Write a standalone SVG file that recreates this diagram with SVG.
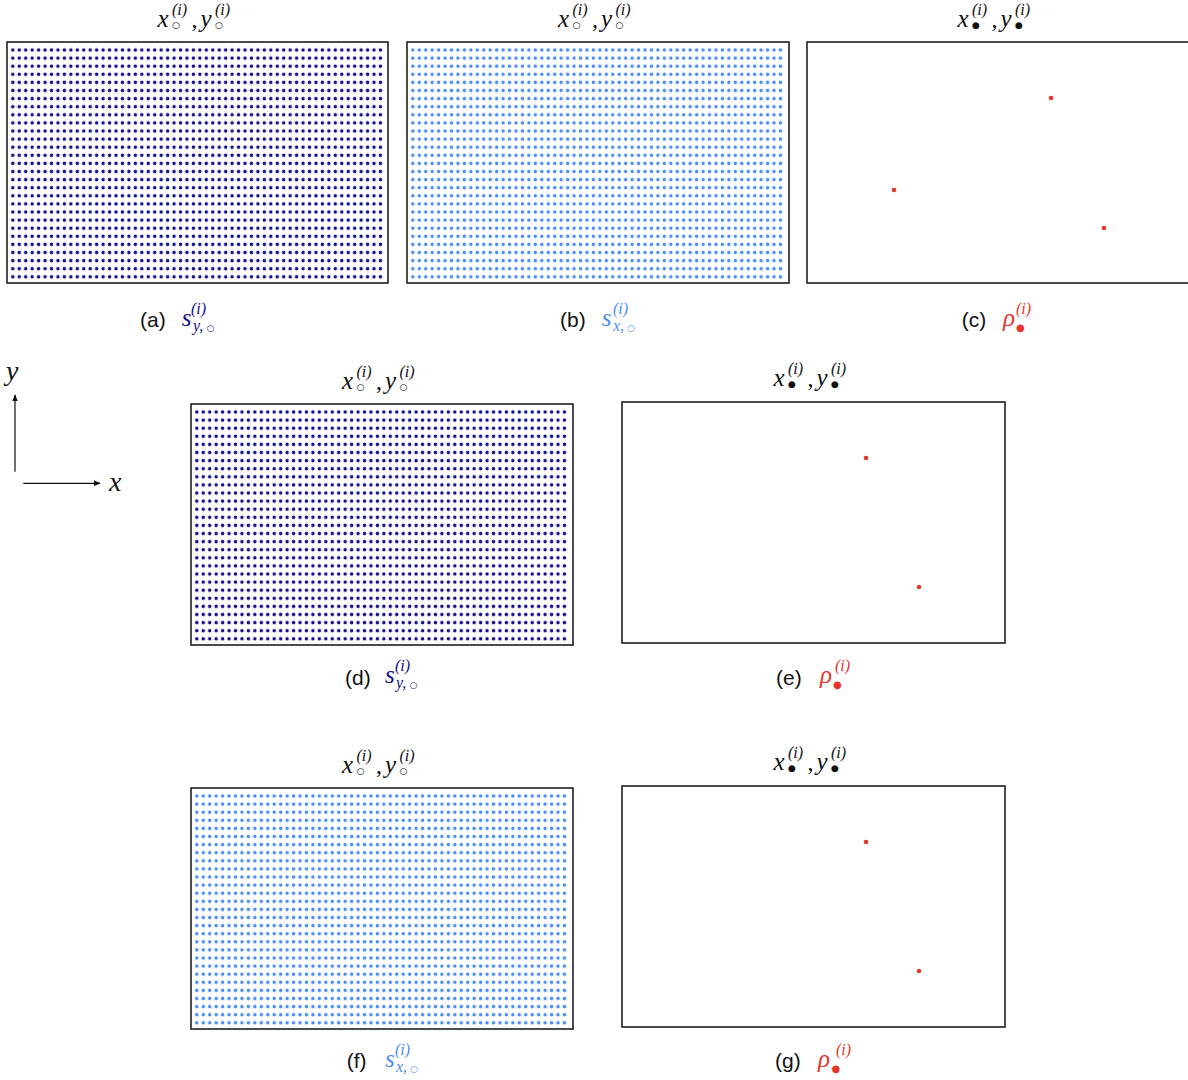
<svg xmlns="http://www.w3.org/2000/svg" width="1188" height="1080" viewBox="0 0 1188 1080">
<style>
.bg{fill:#ffffff}
.panel{fill:#ffffff;stroke:#111111;stroke-width:1.5}
.m{font-family:"Liberation Serif","DejaVu Serif",serif;font-style:italic;font-size:25px;fill:#111}
.ms{font-family:"Liberation Serif","DejaVu Serif",serif;font-style:italic;font-size:16px}
.mp{font-family:"Liberation Serif","DejaVu Serif",serif;font-style:normal;font-size:24px;fill:#111}
.sym{font-family:"DejaVu Sans",sans-serif;font-style:normal;font-size:9px}
.cap{font-family:"Liberation Sans",Arial,sans-serif;font-size:21px;fill:#111}
.navy{fill:#16108a}
.blue{fill:#4d8ef2}
.red{fill:#e6372c}
.axis{stroke:#111;stroke-width:1.2;fill:none}
</style>
<defs>
<pattern id="pNavy" patternUnits="userSpaceOnUse" x="2.575" y="3.95" width="6.45" height="8.1">
<circle cx="3.225" cy="4.05" r="1.75" fill="#16108a"/>
</pattern>
<pattern id="pBlue" patternUnits="userSpaceOnUse" x="2.575" y="3.95" width="6.45" height="8.1">
<circle cx="3.225" cy="4.05" r="1.75" fill="#4d8ef2"/>
</pattern>
<marker id="arr" viewBox="0 0 10 10" refX="9" refY="5" markerWidth="6" markerHeight="6" orient="auto">
<path d="M0,1 L10,5 L0,9 z" fill="#111"/>
</marker>
</defs>
<rect class="bg" x="0" y="0" width="1188" height="1080"/>

<!-- Panel a -->
<g id="panel-a">
<rect class="panel" x="7" y="42" width="381" height="241"/>
<g transform="translate(7,42)"><rect x="2.575" y="3.95" width="374.1" height="234.9" fill="url(#pNavy)"/></g>
<g transform="translate(197.5,26.7)">
<text class="m" x="-40" y="0">x</text><text class="sym" x="-25.5" y="1">○</text><text class="ms" x="-25.5" y="-12" fill="#111">(i)</text>
<text class="mp" x="-6" y="0">,</text>
<text class="m" x="3" y="0">y</text><text class="sym" x="17.5" y="1">○</text><text class="ms" x="17.5" y="-12" fill="#111">(i)</text>
</g>
<text class="cap" x="140" y="327.2">(a)</text>
<text class="m navy" x="181.7" y="326">s</text>
<text class="ms navy" x="191" y="314">(i)</text>
<text class="ms navy" x="193" y="331">y,</text><text class="sym navy" x="206.5" y="331">○</text>
</g>

<!-- Panel b -->
<g id="panel-b">
<rect class="panel" x="407" y="42" width="382" height="241"/>
<g transform="translate(407,42)"><rect x="2.575" y="3.95" width="374.1" height="234.9" fill="url(#pBlue)"/></g>
<g transform="translate(598,26.7)">
<text class="m" x="-40" y="0">x</text><text class="sym" x="-25.5" y="1">○</text><text class="ms" x="-25.5" y="-12" fill="#111">(i)</text>
<text class="mp" x="-6" y="0">,</text>
<text class="m" x="3" y="0">y</text><text class="sym" x="17.5" y="1">○</text><text class="ms" x="17.5" y="-12" fill="#111">(i)</text>
</g>
<text class="cap" x="560" y="327.2">(b)</text>
<text class="m blue" x="601.7" y="326">s</text>
<text class="ms blue" x="613" y="314">(i)</text>
<text class="ms blue" x="613" y="331">x,</text><text class="sym blue" x="627" y="331">○</text>
</g>

<!-- Panel c -->
<g id="panel-c">
<rect class="panel" x="807" y="42" width="383" height="241"/>
<circle class="red" cx="1051" cy="98" r="2.3"/>
<circle class="red" cx="894" cy="190" r="2.3"/>
<circle class="red" cx="1104" cy="228" r="2.3"/>
<g transform="translate(997.5,26.7)">
<text class="m" x="-40" y="0">x</text><text class="sym" x="-25.5" y="1" fill="#111">●</text><text class="ms" x="-25.5" y="-12" fill="#111">(i)</text>
<text class="mp" x="-6" y="0">,</text>
<text class="m" x="3" y="0">y</text><text class="sym" x="17.5" y="1" fill="#111">●</text><text class="ms" x="17.5" y="-12" fill="#111">(i)</text>
</g>
<text class="cap" x="961.7" y="327.2">(c)</text>
<text class="m red" x="1003" y="326">ρ</text>
<text class="sym red" x="1016" y="331" style="font-size:10px">●</text>
<text class="ms red" x="1016" y="314">(i)</text>
</g>

<!-- Axes -->
<g id="connectors">
<line class="axis" x1="15" y1="471.7" x2="15" y2="395" marker-end="url(#arr)"/>
<line class="axis" x1="23.3" y1="483.3" x2="100" y2="483.3" marker-end="url(#arr)"/>
</g>
<g id="axis-labels">
<text class="m" x="6" y="380" style="font-size:28px">y</text>
<text class="m" x="109" y="491" style="font-size:28px">x</text>
</g>

<!-- Panel d -->
<g id="panel-d">
<rect class="panel" x="191" y="404" width="382" height="241"/>
<g transform="translate(191,404)"><rect x="2.575" y="3.95" width="374.1" height="234.9" fill="url(#pNavy)"/></g>
<g transform="translate(382,388.5)">
<text class="m" x="-40" y="0">x</text><text class="sym" x="-25.5" y="1">○</text><text class="ms" x="-25.5" y="-12" fill="#111">(i)</text>
<text class="mp" x="-6" y="0">,</text>
<text class="m" x="3" y="0">y</text><text class="sym" x="17.5" y="1">○</text><text class="ms" x="17.5" y="-12" fill="#111">(i)</text>
</g>
<text class="cap" x="345" y="684.5">(d)</text>
<text class="m navy" x="385" y="683">s</text>
<text class="ms navy" x="395" y="671">(i)</text>
<text class="ms navy" x="396" y="688">y,</text><text class="sym navy" x="409.5" y="688">○</text>
</g>

<!-- Panel e -->
<g id="panel-e">
<rect class="panel" x="622" y="402" width="383" height="241"/>
<circle class="red" cx="866" cy="458" r="2.3"/>
<circle class="red" cx="919" cy="587" r="2.3"/>
<g transform="translate(813.5,385.5)">
<text class="m" x="-40" y="0">x</text><text class="sym" x="-25.5" y="1" fill="#111">●</text><text class="ms" x="-25.5" y="-12" fill="#111">(i)</text>
<text class="mp" x="-6" y="0">,</text>
<text class="m" x="3" y="0">y</text><text class="sym" x="17.5" y="1" fill="#111">●</text><text class="ms" x="17.5" y="-12" fill="#111">(i)</text>
</g>
<text class="cap" x="776" y="684.5">(e)</text>
<text class="m red" x="820" y="683">ρ</text>
<text class="sym red" x="833" y="688" style="font-size:10px">●</text>
<text class="ms red" x="835" y="671">(i)</text>
</g>

<!-- Panel f -->
<g id="panel-f">
<rect class="panel" x="191" y="788" width="382" height="241"/>
<g transform="translate(191,788)"><rect x="2.575" y="3.95" width="374.1" height="234.9" fill="url(#pBlue)"/></g>
<g transform="translate(382,772.5)">
<text class="m" x="-40" y="0">x</text><text class="sym" x="-25.5" y="1">○</text><text class="ms" x="-25.5" y="-12" fill="#111">(i)</text>
<text class="mp" x="-6" y="0">,</text>
<text class="m" x="3" y="0">y</text><text class="sym" x="17.5" y="1">○</text><text class="ms" x="17.5" y="-12" fill="#111">(i)</text>
</g>
<text class="cap" x="346.7" y="1068">(f)</text>
<text class="m blue" x="385" y="1066.5">s</text>
<text class="ms blue" x="395" y="1054.5">(i)</text>
<text class="ms blue" x="396" y="1071.5">x,</text><text class="sym blue" x="410" y="1071.5">○</text>
</g>

<!-- Panel g -->
<g id="panel-g">
<rect class="panel" x="622" y="786" width="383" height="241"/>
<circle class="red" cx="866" cy="842" r="2.3"/>
<circle class="red" cx="919" cy="971" r="2.3"/>
<g transform="translate(813.5,769.5)">
<text class="m" x="-40" y="0">x</text><text class="sym" x="-25.5" y="1" fill="#111">●</text><text class="ms" x="-25.5" y="-12" fill="#111">(i)</text>
<text class="mp" x="-6" y="0">,</text>
<text class="m" x="3" y="0">y</text><text class="sym" x="17.5" y="1" fill="#111">●</text><text class="ms" x="17.5" y="-12" fill="#111">(i)</text>
</g>
<text class="cap" x="775" y="1068">(g)</text>
<text class="m red" x="818" y="1066.5">ρ</text>
<text class="sym red" x="831.5" y="1071.5" style="font-size:10px">●</text>
<text class="ms red" x="836" y="1054.5">(i)</text>
</g>
</svg>
